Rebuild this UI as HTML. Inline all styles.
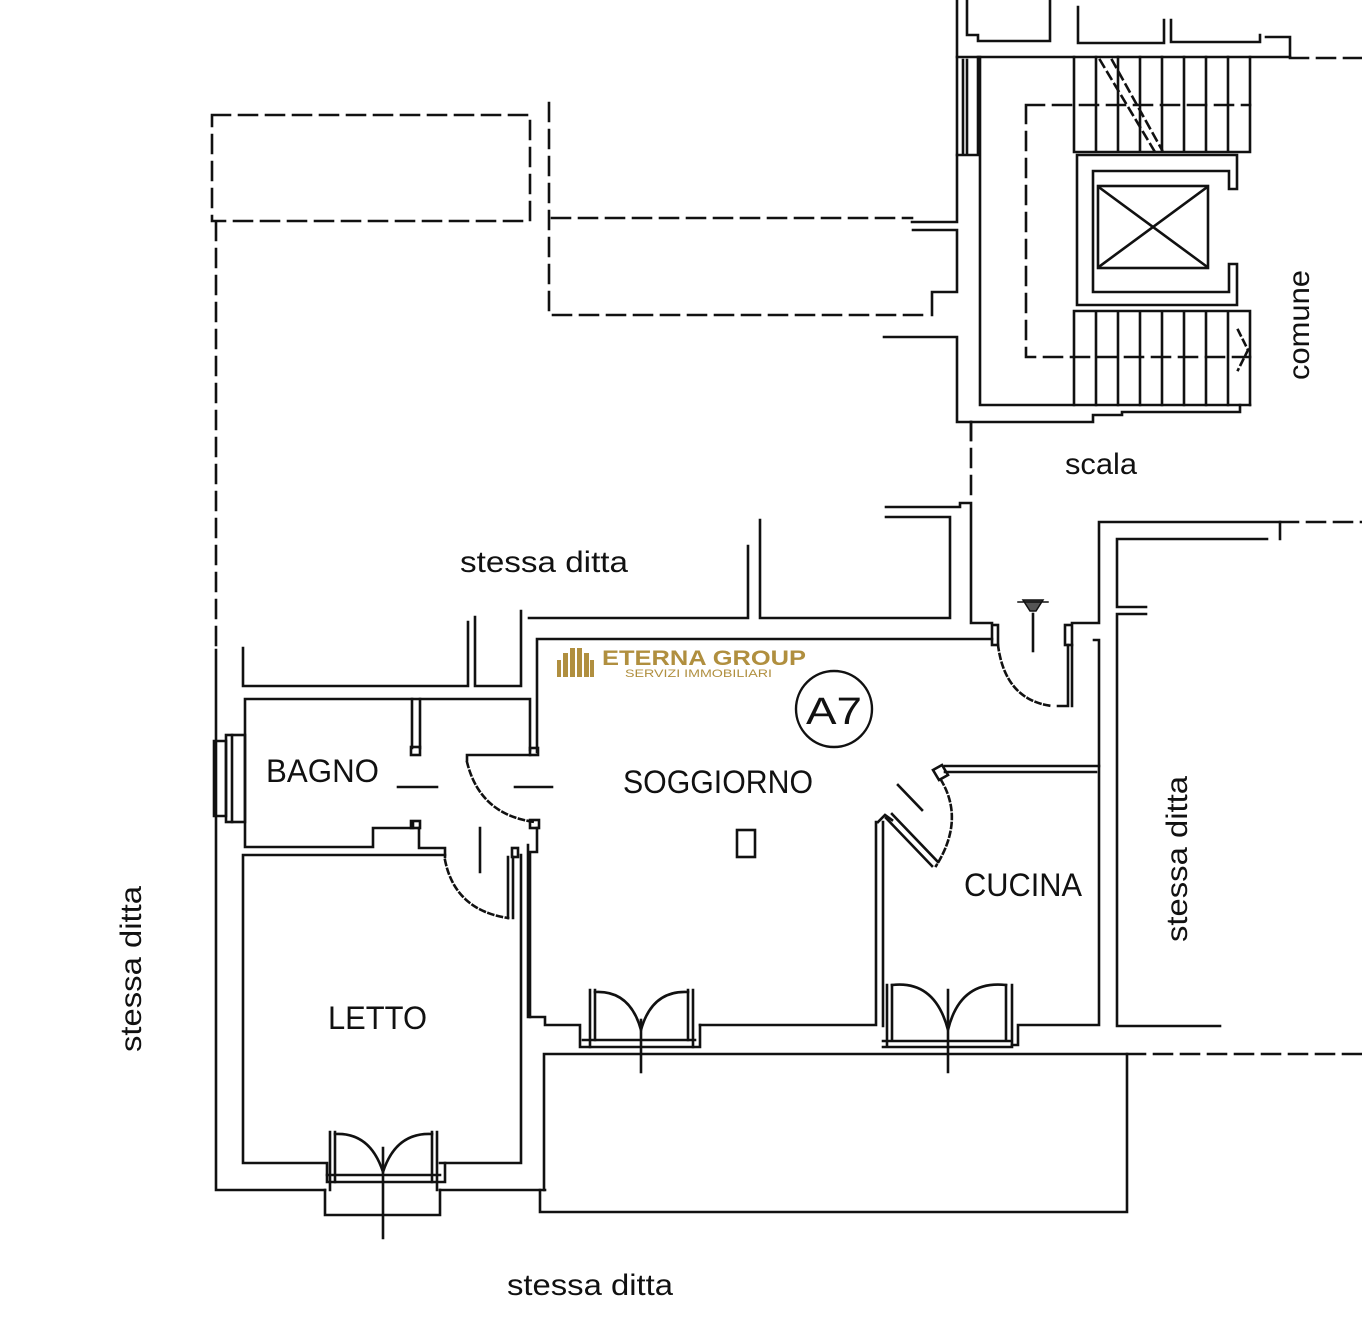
<!DOCTYPE html>
<html><head><meta charset="utf-8"><style>
html,body{margin:0;padding:0;background:#fff}
svg{display:block}
text{font-family:"Liberation Sans",sans-serif;fill:#111}
</style></head><body>
<svg width="1362" height="1325" viewBox="0 0 1362 1325" xmlns="http://www.w3.org/2000/svg">
<g fill="none" stroke="#111" stroke-width="2.6" stroke-linecap="square">
<!-- dashed top-left -->
<g stroke-dasharray="18,9">
<rect x="212" y="115" width="318" height="106"/>
<path d="M216 222 V650"/>
<path d="M549 103 V315 H930"/>
<path d="M552 218 H912"/>
<path d="M1290 58 H1362"/>
<path d="M1026 105 H1250 M1026 105 V357 H1250"/>
<path d="M971 422 V500"/>
<path d="M1280 522 H1362"/>
<path d="M1127 1054 H1362"/>
</g>
<!-- left outer -->
<path d="M216 650 V1190 H325 M440 1190 H545"/>
<!-- upper left blocks -->
<path d="M243 648 V686 H468 V622 M475 617 V686 H521 V611"/>
<path d="M529 618 H748 V546 M760 520 V618 H950 V517 H886"/>
<path d="M886 507 H960 V503 H971 V623 H992"/>
<!-- soggiorno top wall -->
<path d="M537 752 V639 H992"/>
<rect x="992" y="625" width="6" height="20"/>
<rect x="1065" y="625" width="7" height="20"/>
<path d="M1072 623 H1099 V522 H1280 V539 M1117 539 H1267 M1117 539 V607 H1146 M1146 614 H1117 V1026 H1220"/>
<path d="M1068 645 V706 H1058 M1072 645 V706"/>
<path d="M1099 640 V1025 H1018 V1045 H1012 M1094 640 H1099"/>
<path d="M998 645 Q1005 700 1052 706" stroke-dasharray="5,4"/>
<path d="M1033 614 V651"/>
<path d="M1018 602 L1048 602 M1023 600 L1043 600 L1036 611 L1030 611 Z" fill="#555" stroke-width="1.5"/>
<!-- cucina -->
<path d="M945 766 H1099 M945 772 H1096"/>
<path d="M933 770 L942 765 L948 775 L939 780 Z"/>
<path d="M941 780 Q965 820 936 866" stroke-dasharray="5,4"/>
<path d="M886 818 L932 866 M892 814 L938 862"/>
<path d="M878 822 L885 815 L892 820"/>
<path d="M898 785 L922 810"/>
<path d="M876 822 V1025 H700 M883 822 V1026"/>
<!-- cucina window -->
<path d="M883 1047 H1012 M883 1041 H1012 M887 985 V1047 M892 985 V1041 M1012 985 V1047 M1006 985 V1041"/>
<path d="M892 985 Q935 980 948 1030 Q960 980 1006 985"/>
<path d="M948 990 V1072"/>
<!-- balcony -->
<path d="M544 1054 H1127 V1212 H540 V1190 M544 1054 V1190"/>
<!-- soggiorno window -->
<path d="M528 845 V1017 H545 V1025 H580 V1047 H700 V1025 M583 1040 H695"/>
<path d="M590 990 V1047 M595 990 V1040 M688 990 V1040 M693 990 V1047"/>
<path d="M595 992 Q630 990 641 1030 Q652 990 688 992"/>
<path d="M641 1020 V1072"/>
<!-- bagno -->
<path d="M245 699 H530 V750 M245 699 V847 H373 V828 H413 V822 M419 828 V848 H445 V857"/>
<path d="M412 699 V748 M420 699 V748"/>
<rect x="411" y="747" width="9" height="8"/>
<rect x="530" y="748" width="8" height="7"/>
<rect x="411" y="821" width="9" height="7"/>
<rect x="226" y="735" width="19" height="87"/>
<path d="M214 741 H226 V816 H214 Z M232 735 V822"/>
<path d="M467 755 H530 M467 755 V760"/>
<path d="M467 762 Q480 815 535 822" stroke-dasharray="5,4"/>
<path d="M398 787 H437 M515 787 H552 M480 828 V872"/>
<rect x="530" y="820" width="9" height="8"/>
<path d="M537 828 V852 H530 V1017 M521 855 V1163 H440"/>
<rect x="512" y="848" width="6" height="9"/>
<path d="M508 857 V918 M513 857 V918"/>
<path d="M445 860 Q455 910 508 918" stroke-dasharray="5,4"/>
<!-- letto -->
<path d="M243 855 H445 M243 855 V1163 H327 V1182 H445 V1163"/>
<path d="M330 1190 V1132 M335 1182 V1132 M432 1182 V1132 M437 1190 V1132 M327 1175 H440"/>
<path d="M335 1134 Q370 1132 383 1172 Q396 1132 432 1134"/>
<path d="M325 1190 V1215 H440 V1190 M383 1148 V1238"/>
<rect x="737" y="830" width="18" height="27"/>
<!-- stair block -->
<path d="M957 0 V222 H912 M913 230 H957 V292 H932 V315"/>
<path d="M884 337 H957 V422 H1093 V415 H1122 V412 H1240 V405"/>
<path d="M967 0 V35 H978 V41 H1050 V0 M1078 7 V43 H1164 V20 M1171 20 V42 H1260 V35 M1266 37 H1290 V57"/>
<path d="M957 57 H1290"/>
<path d="M963 60 V155 M967 60 V155 M978 57 V155 M957 155 H978"/>
<path d="M980 57 V405 H1250"/>
<path d="M1074 57 V152 H1250 V57 M1096 57 V152 M1118 57 V152 M1140 57 V152 M1162 57 V152 M1184 57 V152 M1206 57 V152 M1228 57 V152"/>
<path d="M1074 311 V405 M1074 311 H1250 V405 M1096 311 V405 M1118 311 V405 M1140 311 V405 M1162 311 V405 M1184 311 V405 M1206 311 V405 M1228 311 V405"/>
<path d="M1077 155 H1237 V189 H1229 V171 H1093 V292 H1229 V264 H1237 V305 H1077 Z"/>
<rect x="1098" y="186" width="110" height="82"/>
<path d="M1100 188 L1206 266 M1206 188 L1100 266"/>
<path d="M1100 60 L1155 152 M1112 60 L1162 150" stroke-dasharray="8,6"/>
<path d="M1238 330 L1248 350 L1238 370" stroke-dasharray="6,5"/>
<path d="M971 422 V440"/>
</g>
<circle cx="834" cy="709" r="38" fill="none" stroke="#111" stroke-width="2.4"/>
<text x="834" y="724" font-size="38" text-anchor="middle" textLength="56" lengthAdjust="spacingAndGlyphs">A7</text>
<text x="623" y="793" font-size="32" textLength="190" lengthAdjust="spacingAndGlyphs">SOGGIORNO</text>
<text x="266" y="782" font-size="32" textLength="113" lengthAdjust="spacingAndGlyphs">BAGNO</text>
<text x="328" y="1029" font-size="32" textLength="99" lengthAdjust="spacingAndGlyphs">LETTO</text>
<text x="964" y="896" font-size="32" textLength="118" lengthAdjust="spacingAndGlyphs">CUCINA</text>
<text x="460" y="572" font-size="30" textLength="168" lengthAdjust="spacingAndGlyphs">stessa  ditta</text>
<text x="507" y="1295" font-size="30" textLength="166" lengthAdjust="spacingAndGlyphs">stessa  ditta</text>
<text x="1065" y="474" font-size="30" textLength="72" lengthAdjust="spacingAndGlyphs">scala</text>
<text transform="translate(1309,380) rotate(-90)" font-size="30" textLength="110" lengthAdjust="spacingAndGlyphs">comune</text>
<text transform="translate(141,1052) rotate(-90)" font-size="30" textLength="166" lengthAdjust="spacingAndGlyphs">stessa  ditta</text>
<text transform="translate(1187,942) rotate(-90)" font-size="30" textLength="166" lengthAdjust="spacingAndGlyphs">stessa  ditta</text>
<!-- logo -->
<g fill="#b08f3f">
<rect x="557" y="660" width="4" height="17"/>
<rect x="563" y="653" width="5" height="24"/>
<rect x="570" y="648" width="5" height="29"/>
<rect x="577" y="648" width="5" height="29"/>
<rect x="584" y="653" width="5" height="24"/>
<rect x="590" y="660" width="4" height="17"/>
<text x="602" y="665" font-size="21" font-weight="bold" style="fill:#b08f3f" textLength="204" lengthAdjust="spacingAndGlyphs">ETERNA GROUP</text>
<text x="625" y="677" font-size="11" style="fill:#b08f3f" textLength="147" lengthAdjust="spacingAndGlyphs">SERVIZI IMMOBILIARI</text>
</g>
</svg>
</body></html>
